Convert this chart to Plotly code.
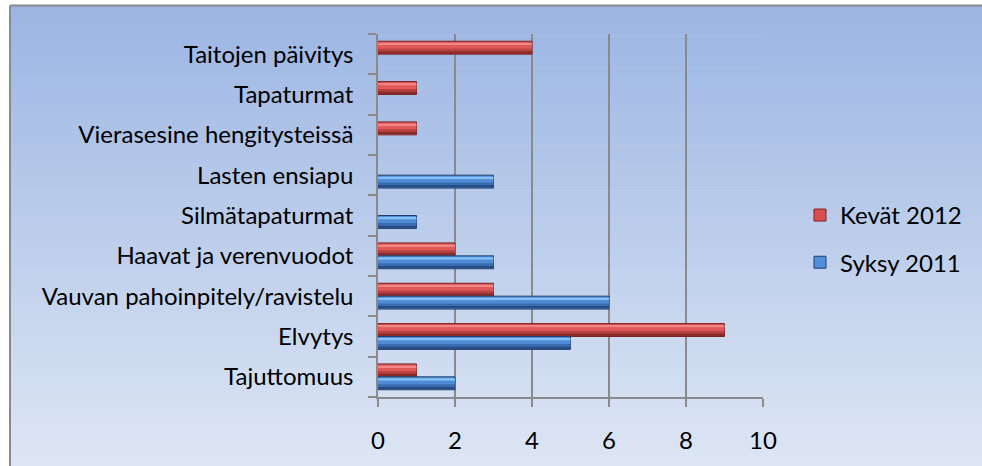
import plotly.graph_objects as go

# categories from bottom to top
aiheet = ['Tajuttomuus', 'Elvytys', 'Vauvan pahoinpitely/ravistelu',
          'Haavat ja verenvuodot', 'Silmätapaturmat', 'Lasten ensiapu',
          'Vierasesine hengitysteissä', 'Tapaturmat', 'Taitojen päivitys']
kevat_2012 = [1, 9, 3, 2, None, None, 1, 1, 4]
syksy_2011 = [2, 5, 6, 3, 1, 3, None, None, None]

FONT = 'Lato'
W, H = 982, 466
L, R, T, B = 378, 763, 34, 404


def px_x(p):
    return (p - L) / (R - L)


def px_y(p):
    return (B - p) / (B - T)


bw = 0.32
fig = go.Figure()


def add_series(name, vals, off, base, bands, edge):
    fig.add_trace(go.Bar(x=vals, y=aiheet, orientation='h', name=name,
                         legendgroup=name, offset=off, width=bw,
                         marker=dict(color=base, line=dict(color=edge, width=1))))
    # fake bevel: horizontal bands, rows counted from the top of a 13 row bar
    for r0, r1, col in bands:
        fig.add_trace(go.Bar(x=vals, y=aiheet, orientation='h', showlegend=False,
                             legendgroup=name, offset=off + (13 - r1) / 13 * bw,
                             width=(r1 - r0) / 13 * bw,
                             marker=dict(color=col, line=dict(width=0)),
                             hoverinfo='skip'))


add_series('Kevät 2012', kevat_2012, 0.0, '#D94F4F',
           [(1.5, 4, '#F28686'), (4, 7.5, '#E05858'), (7.5, 10, '#B84242'),
            (10, 12.5, '#8A2A2A')], '#7A2424')
add_series('Syksy 2011', syksy_2011, -bw, '#4F8FDB',
           [(1.5, 4, '#86C1F5'), (4, 7.5, '#4F8BD6'), (7.5, 10, '#3A6DB0'),
            (10, 12.5, '#284E86')], '#213F6E')

# gradient background with border on top and left
shapes = []
top_c = (155, 181, 227)
bot_c = (222, 230, 244)
n = 60
y0p, y1p = 5, 476
for i in range(n):
    f = (i + 0.5) / n
    c = tuple(round(top_c[k] + (bot_c[k] - top_c[k]) * f) for k in range(3))
    ya = y0p + (y1p - y0p) * i / n
    yb = y0p + (y1p - y0p) * (i + 1) / n + 0.5
    shapes.append(dict(type='rect', xref='paper', yref='paper', layer='below',
                       x0=px_x(10), x1=px_x(W + 10), y0=px_y(ya), y1=px_y(yb),
                       fillcolor='rgb(%d,%d,%d)' % c, line=dict(width=0)))
# white strips outside the chart frame
shapes.append(dict(type='rect', xref='paper', yref='paper', layer='below',
                   x0=px_x(-5), x1=px_x(W + 10), y0=px_y(-5), y1=px_y(5),
                   fillcolor='white', line=dict(width=0)))
shapes.append(dict(type='rect', xref='paper', yref='paper', layer='below',
                   x0=px_x(-5), x1=px_x(10), y0=px_y(-5), y1=px_y(H + 10),
                   fillcolor='white', line=dict(width=0)))
shapes.append(dict(type='line', xref='paper', yref='paper', layer='below',
                   x0=px_x(10), x1=px_x(W + 10), y0=px_y(5), y1=px_y(5),
                   line=dict(color='#8A8A8A', width=2)))
shapes.append(dict(type='line', xref='paper', yref='paper', layer='below',
                   x0=px_x(10), x1=px_x(10), y0=px_y(5), y1=px_y(H + 10),
                   line=dict(color='#8A8A8A', width=2)))

fig.update_layout(
    width=W, height=H,
    margin=dict(l=L, r=W - R, t=T, b=H - B, pad=0),
    barmode='overlay',
    paper_bgcolor='#DEE6F4', plot_bgcolor='white',
    font=dict(family=FONT, size=24, color='black'),
    shapes=shapes,
    showlegend=True,
    legend=dict(x=px_x(800), xanchor='left', y=px_y(196), yanchor='top',
                tracegroupgap=13, bgcolor='rgba(0,0,0,0)',
                font=dict(family=FONT, size=24)),
)
fig.update_xaxes(range=[0, 10], dtick=2, showgrid=True, gridcolor='#8A8A8A',
                 gridwidth=1.5, zeroline=False, showline=True,
                 linecolor='#8A8A8A', linewidth=1.5, ticks='outside',
                 ticklen=8, tickcolor='#8A8A8A', tickwidth=1.5,
                 ticklabelstandoff=13)
fig.update_yaxes(categoryorder='array', categoryarray=aiheet,
                 showline=True, linecolor='#8A8A8A', linewidth=1.5,
                 ticks='outside', tickson='boundaries', ticklen=8,
                 tickcolor='#8A8A8A', tickwidth=1.5, showgrid=False,
                 ticklabelstandoff=18)

fig.write_html("out.html", config={'displayModeBar': False},
               post_script="document.body.style.margin='0';document.body.style.overflow='hidden';")
